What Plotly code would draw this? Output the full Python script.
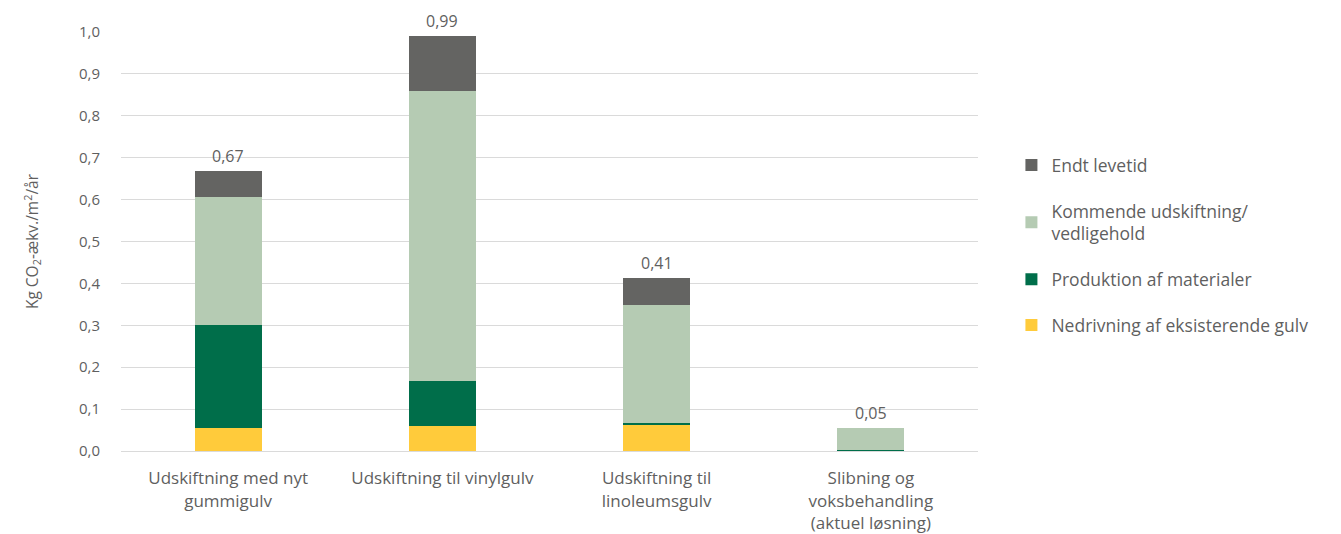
import plotly.graph_objects as go

# Categories (x axis)
categories = [
    "Udskiftning med nyt<br>gummigulv",
    "Udskiftning til vinylgulv",
    "Udskiftning til<br>linoleumsgulv",
    "Slibning og<br>voksbehandling<br>(aktuel løsning)",
]

# Stacked components, kg CO2-eq per m2 per year
nedrivning = [0.055, 0.060, 0.064, 0.000]
produktion = [0.246, 0.107, 0.003, 0.003]
kommende = [0.305, 0.693, 0.282, 0.051]
endt_levetid = [0.063, 0.130, 0.064, 0.000]

y_ticks = [0.0, 0.1, 0.2, 0.3, 0.4, 0.5, 0.6, 0.7, 0.8, 0.9, 1.0]

TEXT = "#5f5f5f"
FONT = "Open Sans"

# (name, values, colour, legend rank) - bottom of stack first
series = [
    ("Nedrivning af eksisterende gulv", nedrivning, "#ffcb3b", 4),
    ("Produktion af materialer", produktion, "#006e4a", 3),
    ("Kommende udskiftning/<br>vedligehold", kommende, "#b5cbb3", 2),
    ("Endt levetid", endt_levetid, "#646462", 1),
]

fig = go.Figure()
for i, (name, vals, color, rank) in enumerate(series):
    fig.add_trace(go.Bar(
        x=categories, y=vals, name=name,
        marker=dict(color=color, line=dict(width=0)),
        legendgroup=f"g{i}", legendrank=rank,
        hoverinfo="skip",
    ))

totals = [sum(v) for v in zip(nedrivning, produktion, kommende, endt_levetid)]
for cat, tot in zip(categories, totals):
    fig.add_annotation(
        x=cat, y=tot, text=f"{tot:.2f}".replace(".", ","),
        showarrow=False, yanchor="bottom", yshift=2,
        font=dict(family=FONT, size=16, color=TEXT),
    )

fig.update_layout(
    barmode="stack",
    bargap=0.687,
    width=1341, height=534,
    margin=dict(l=121, r=363, t=32, b=83),
    paper_bgcolor="white", plot_bgcolor="white",
    separators=", ",
    font=dict(family=FONT, size=15, color=TEXT),
    legend=dict(
        x=1.039, xanchor="left", y=0.725, yanchor="top",
        traceorder="grouped", tracegroupgap=20,
        font=dict(family=FONT, size=17.5, color=TEXT),
        itemclick=False,
    ),
    yaxis=dict(
        range=[0, 1.0], tickvals=y_ticks, tickformat=".1f",
        showgrid=True, gridcolor="#dadada", gridwidth=1,
        zeroline=False, showline=False, ticks="",
        ticklabelstandoff=20, automargin=False,
        tickfont=dict(family=FONT, size=15, color=TEXT),
        title=dict(text="Kg CO<sub>2</sub>-ækv./m<sup>2</sup>/år",
                   font=dict(family=FONT, size=15.5, color=TEXT), standoff=36),
    ),
    xaxis=dict(
        showline=True, linecolor="#dadada", linewidth=1,
        ticks="", ticklabelstandoff=12, automargin=False,
        tickfont=dict(family=FONT, size=17, color=TEXT),
    ),
)

fig.write_html("out.html")
